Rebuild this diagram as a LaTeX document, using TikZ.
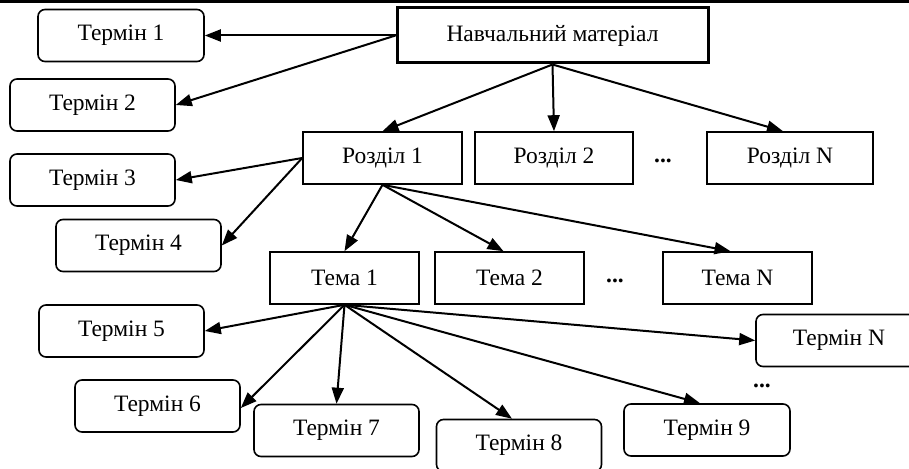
\documentclass[tikz,border=0pt]{standalone}
\usepackage{fontspec}
\setmainfont{Liberation Serif}
\usetikzlibrary{arrows.meta}

\tikzset{
	box/.style={draw, line width=1.6pt, minimum height=52pt, inner sep=0pt, font=\fontsize{23.5}{27}\selectfont},
	termin/.style={box, rounded corners=7pt, minimum width=165pt},
	rozdil/.style={box, minimum width=158pt},
	tema/.style={box, minimum width=149pt},
	dots/.style={font=\fontsize{23.5}{27}\selectfont\bfseries, inner sep=0pt},
	arr/.style={line width=2pt, -{Triangle[length=16pt,width=12pt]}}
}

\begin{document}
\begin{tikzpicture}[x=1pt,y=-1pt]
	\useasboundingbox (0,0) rectangle (909,468);
	\clip (0,0) rectangle (909,468);

	% Linea superior
	\draw [line width=3pt] (0,1.5) -- (909,1.5);

	% Material
	\node [box, line width=3pt, minimum width=311pt, minimum height=55pt] (mat) at (552.5,35.5) {Навчальний матеріал};

	% Razdely
	\node [rozdil, minimum width=159pt] (r1) at (382.5,158) {Розділ 1};
	\node [rozdil] (r2) at (554,158) {Розділ 2};
	\node [dots] (d1) at (663,161) {...};
	\node [rozdil, minimum width=166pt] (rN) at (790,158) {Розділ N};

	% Temy
	\node [tema] (tm1) at (344.5,278) {Тема 1};
	\node [tema] (tm2) at (509.5,278) {Тема 2};
	\node [dots] (d2) at (615,281) {...};
	\node [tema] (tmN) at (737.5,278) {Тема N};

	% Terminy
	\node [termin, minimum width=166pt] (t1) at (121,35.5) {Термін 1};
	\node [termin] (t2) at (92.5,105) {Термін 2};
	\node [termin] (t3) at (92.5,180) {Термін 3};
	\node [termin] (t4) at (138.5,245.5) {Термін 4};
	\node [termin] (t5) at (121.5,331) {Термін 5};
	\node [termin] (t6) at (157.5,406) {Термін 6};
	\node [termin] (t7) at (336.5,430.5) {Термін 7};
	\node [termin] (t8) at (519,445.5) {Термін 8};
	\node [termin, minimum width=166pt] (t9) at (707,430) {Термін 9};
	\node [termin, minimum width=166pt] (tN) at (839,340.5) {Термін N};
	\node [dots] (d3) at (762,386) {...};

	% Strilky vid materialu
	\draw [arr] (mat.west) -- (t1.east);
	\draw [arr] (mat.west) -- (t2.east);
	\draw [arr] (mat.south) -- (r1.north);
	\draw [arr] (mat.south) -- (r2.north);
	\draw [arr] (mat.south) -- ([xshift=-7pt]rN.north);

	% Strilky vid rozdilu 1
	\draw [arr] (r1.west) -- (t3.east);
	\draw [arr] (r1.west) -- (t4.east);
	\draw [arr] (r1.south) -- (tm1.north);
	\draw [arr] (r1.south) -- ([xshift=-6pt]tm2.north);
	\draw [arr] (r1.south) -- ([xshift=-7pt]tmN.north);

	% Strilky vid temy 1
	\draw [arr] (tm1.south) -- (t5.east);
	\draw [arr] (tm1.south) -- ([yshift=-2pt]t6.east);
	\draw [arr] (tm1.south) -- (t7.north);
	\draw [arr] (tm1.south) -- ([xshift=-7pt]t8.north);
	\draw [arr] (tm1.south) -- ([xshift=-7pt]t9.north);
	\draw [arr] (tm1.south) -- (tN.west);
\end{tikzpicture}
\end{document}
